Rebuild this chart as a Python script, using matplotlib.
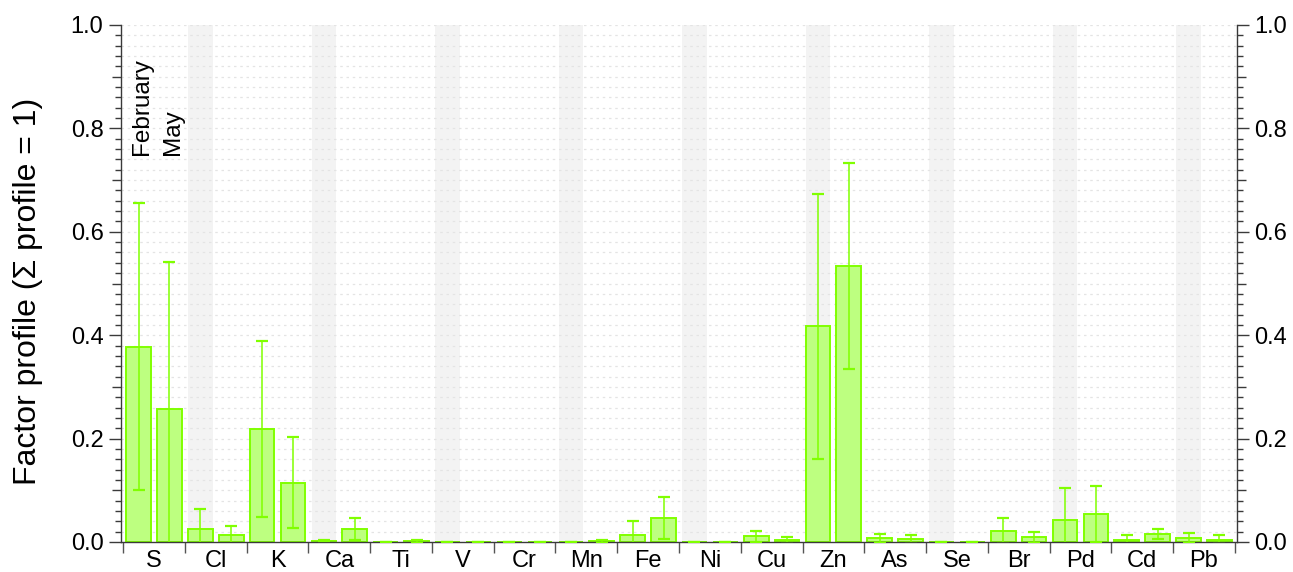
import numpy as np
import matplotlib
matplotlib.use("Agg")
import matplotlib.pyplot as plt
from matplotlib.ticker import MultipleLocator, FixedLocator, NullFormatter
from matplotlib.lines import TICKLEFT, TICKRIGHT

# Elemental factor profile for two sampling campaigns
elements = ['S', 'Cl', 'K', 'Ca', 'Ti', 'V', 'Cr', 'Mn', 'Fe', 'Ni',
            'Cu', 'Zn', 'As', 'Se', 'Br', 'Pd', 'Cd', 'Pb']
february = [0.378, 0.026, 0.219, 0.002, 0.0005, 0.0, 0.0, 0.0, 0.013, 0.0,
            0.011, 0.417, 0.007, 0.0, 0.021, 0.043, 0.0045, 0.007]
february_err = [0.278, 0.038, 0.170, 0.001, 0.0, 0.0, 0.0, 0.0, 0.028, 0.0,
                0.011, 0.257, 0.008, 0.0, 0.025, 0.061, 0.010, 0.0097]
may = [0.257, 0.013, 0.115, 0.0245, 0.001, 0.0, 0.0, 0.001, 0.046, 0.0,
       0.0033, 0.534, 0.005, 0.0, 0.009, 0.0535, 0.015, 0.0045]
may_err = [0.285, 0.018, 0.088, 0.021, 0.0035, 0.0, 0.0, 0.0035, 0.041, 0.0,
           0.007, 0.200, 0.008, 0.0, 0.011, 0.054, 0.010, 0.0085]
series_labels = ['February', 'May']

FONT = 'Liberation Sans'
plt.rcParams['font.family'] = [FONT, 'DejaVu Sans']

FILL = '#bdff80'
EDGE = '#80ff00'
TICK_COLOR = '#3a3a3a'

W, H = 1293, 572
fig = plt.figure(figsize=(W / 100, H / 100), dpi=100)
left, right, bottom, top = 121, 1237, 542, 25
ax = fig.add_axes([left / W, (H - bottom) / H, (right - left) / W, (bottom - top) / H])

n = len(elements)
slot_w = 0.8
x_feb = np.arange(n) * 2 + 0.5
x_may = np.arange(n) * 2 + 1.5

# shaded columns behind every other element's first bar
for i in range(1, n, 2):
    ax.axvspan(2 * i + 0.1, 2 * i + 0.9, color='#f3f3f3', zorder=0, lw=0)

# dotted horizontal grid every 0.02
for yv in np.arange(0.02, 1.0001, 0.02):
    ax.axhline(yv, color='#e4e4e4', lw=0.9, ls=(0, (2, 3)), zorder=0.5)

for xs, vals, errs in [(x_feb, february, february_err), (x_may, may, may_err)]:
    ax.bar(xs, vals, width=slot_w, color=FILL, edgecolor=EDGE, linewidth=1.4, zorder=2)
    ax.errorbar(xs, vals, yerr=errs, fmt='none', ecolor=EDGE, elinewidth=1.1,
                capsize=4.5, capthick=1.6, zorder=3)

ax.set_xlim(-0.07, 2 * n + 0.07)
ax.set_ylim(0, 1.0)

# spines
for side in ['left', 'right', 'bottom']:
    ax.spines[side].set_color(TICK_COLOR)
    ax.spines[side].set_linewidth(1.0)
ax.spines['top'].set_visible(False)

# y ticks on both sides
ax.yaxis.set_major_locator(MultipleLocator(0.2))
ax.yaxis.set_major_formatter(plt.FuncFormatter(lambda v, p: f'{v:.1f}'))
minor_vals = [round(v, 2) for v in np.arange(0.02, 1.0, 0.02)
              if abs(round(v * 10) - v * 10) > 1e-6]
ax.yaxis.set_minor_locator(FixedLocator(minor_vals))
ax.tick_params(axis='y', which='major', direction='out', length=8.6, width=1.0,
               color=TICK_COLOR, labelsize=17, pad=4.0, left=True, right=True,
               labelleft=True, labelright=True)
ax.tick_params(axis='y', which='minor', direction='out', length=4.2, width=1.0,
               color=TICK_COLOR, left=True, right=True)

# medium ticks at the odd tenths
mid_vals = [0.1, 0.3, 0.5, 0.7, 0.9]
ytr = ax.get_yaxis_transform()
ax.plot([0] * len(mid_vals), mid_vals, ls='none', marker=TICKLEFT, markersize=6.5,
        markeredgewidth=1.0, color=TICK_COLOR, transform=ytr, clip_on=False)
ax.plot([1] * len(mid_vals), mid_vals, ls='none', marker=TICKRIGHT, markersize=6.5,
        markeredgewidth=1.0, color=TICK_COLOR, transform=ytr, clip_on=False)

# x ticks: marks at element boundaries, labels at element centres
ax.xaxis.set_major_locator(FixedLocator(np.arange(0, 2 * n + 1, 2)))
ax.xaxis.set_major_formatter(NullFormatter())
ax.xaxis.set_minor_locator(FixedLocator(np.arange(n) * 2 + 1.0))
ax.xaxis.set_minor_formatter(plt.FixedFormatter(elements))
ax.tick_params(axis='x', which='major', direction='out', length=8, width=1.0,
               color='#555555')
ax.tick_params(axis='x', which='minor', length=0, labelsize=17, pad=5.5)

# series labels above the first element
ax.text(x_feb[0] + 0.12, 0.7485, series_labels[0], rotation=90, ha='center',
        va='bottom', fontsize=17.5)
ax.text(x_may[0] + 0.12, 0.7485, series_labels[1], rotation=90, ha='center',
        va='bottom', fontsize=17.5)

fig.text(28 / W, (H - 291.5) / H, 'Factor profile (Σ profile = 1)', rotation=90,
         ha='center', va='center', fontsize=23)

fig.savefig('out.png', dpi=100)
